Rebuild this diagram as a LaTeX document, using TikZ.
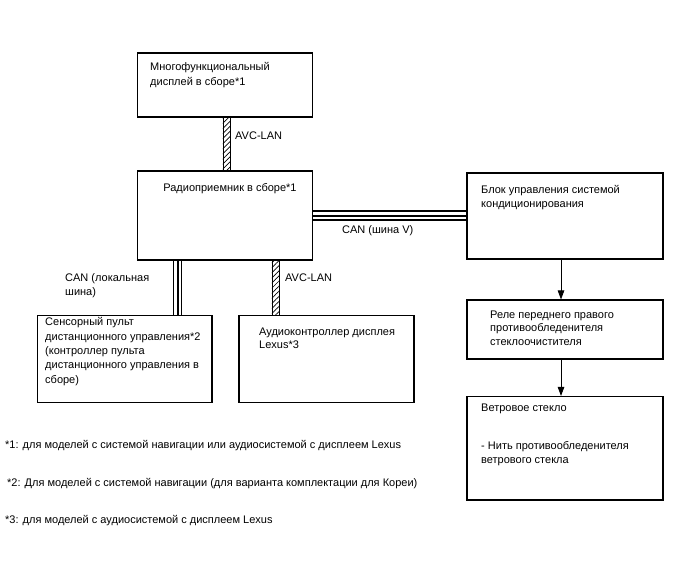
\documentclass[tikz,border=0pt]{standalone}
\usepackage{fontspec}
\setmainfont{Liberation Sans}
\usetikzlibrary{arrows.meta,patterns.meta,calc}
\tikzset{
  box/.style={draw, line width=1.1pt, rectangle, inner sep=0pt},
  txt/.style={anchor=north west, inner sep=0pt, align=left, font=\fontsize{11}{14.3}\selectfont},
  hatchbus/.style={draw, line width=0.7pt, pattern={Lines[angle=45,distance=3.6pt,line width=0.7pt]}},
  canline/.style={line width=1.6pt},
  flow/.style={draw, line width=0.8pt, -{Triangle[width=6.5pt,length=9pt]}}
}
\begin{document}
\begin{tikzpicture}[x=1pt,y=-1pt]
\useasboundingbox[fill=white] (0,0) rectangle (688,560);
% boxes
\node[box, minimum width=175pt, minimum height=64pt] (b1) at (225,85) {};
\node[box, minimum width=175pt, minimum height=89pt] (b2) at (225,215.5) {};
\node[box, minimum width=174.5pt, minimum height=87pt] (b3) at (124.75,359) {};
\node[box, minimum width=175pt, minimum height=87pt] (b4) at (326.5,359) {};
\node[box, minimum width=196pt, minimum height=86pt] (b5) at (565,216) {};
\node[box, minimum width=196pt, minimum height=59pt] (b6) at (565,329.5) {};
\node[box, minimum width=196pt, minimum height=103.5pt] (b7) at (565,448.25) {};
% box texts
\node[txt, font=\fontsize{11}{15}\selectfont] (t1) at (150,62.6) {Многофункциональный\\дисплей в сборе*1};
\node[txt, anchor=north] (t2) at (230,183.6) {Радиоприемник в сборе*1};
\node[txt, font=\fontsize{11}{14.3}\selectfont] (t3) at (45,317.6) {Сенсорный пульт\\дистанционного управления*2\\(контроллер пульта\\дистанционного управления в\\сборе)};
\node[txt, font=\fontsize{11}{13.5}\selectfont] (t4) at (259,327.6) {Аудиоконтроллер дисплея\\Lexus*3};
\node[txt, font=\fontsize{11}{14}\selectfont] (t5) at (481,185.6) {Блок управления системой\\кондиционирования};
\node[txt, font=\fontsize{11}{13.5}\selectfont] (t6) at (490,310.6) {Реле переднего правого\\противообледенителя\\стеклоочистителя};
\node[txt] (t7a) at (481,403.6) {Ветровое стекло};
\node[txt, font=\fontsize{11}{13.2}\selectfont] (t7b) at (481,441.6) {- Нить противообледенителя\\ветрового стекла};
% connectors
\coordinate (h1) at (226.5,0);
\path[hatchbus] ($(b1.south -| h1)+(-3.6,0)$) rectangle ($(b2.north -| h1)+(3.6,0)$);
\coordinate (h2) at (275.5,0);
\path[hatchbus] ($(b2.south -| h2)+(-3.6,0)$) rectangle ($(b4.north -| h2)+(3.6,0)$);
% CAN V bus
\coordinate (cv) at (0,215.7);
\foreach \d in {-4.6,0,4.4}{
  \draw[canline] ($(b2.east |- cv)+(0,\d)$) -- ($(b5.west |- cv)+(0,\d)$);
}
% CAN local bus
\coordinate (cl) at (177.5,0);
\foreach \d in {-4,0.5,4}{
  \draw[canline] ($(b2.south -| cl)+(\d,0)$) -- ($(b3.north -| cl)+(\d,0)$);
}
% arrows
\coordinate (ax) at (561,0);
\draw[flow] (b5.south -| ax) -- (b6.north -| ax);
\draw[flow] (b6.south -| ax) -- (b7.north -| ax);
% labels
\node[txt] (l1) at (235,131.6) {AVC-LAN};
\node[txt] (l2) at (342,225.6) {CAN (шина V)};
\node[txt, font=\fontsize{11}{14}\selectfont] (l3) at (65,273.6) {CAN (локальная\\шина)};
\node[txt] (l4) at (285,273.6) {AVC-LAN};
% footnotes
\node[txt] (f1) at (5,440.6) {*1: для моделей с системой навигации или аудиосистемой с дисплеем Lexus};
\node[txt] (f2) at (7,478.6) {*2: Для моделей с системой навигации (для варианта комплектации для Кореи)};
\node[txt] (f3) at (5,515.6) {*3: для моделей с аудиосистемой с дисплеем Lexus};
\end{tikzpicture}
\end{document}
